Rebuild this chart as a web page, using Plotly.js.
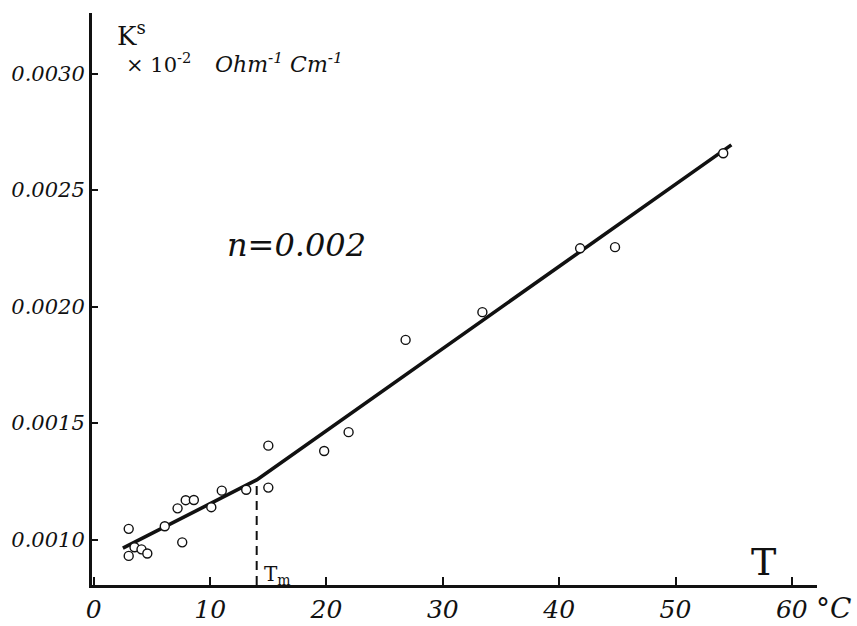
<!DOCTYPE html>
<html>
<head>
<meta charset="utf-8">
<script src="https://cdn.plot.ly/plotly-3.0.1.min.js"></script>
<style>html,body{margin:0;padding:0;background:#fff;}#chart{width:857px;height:626px;}</style>
</head>
<body>
<div id="chart"></div>
<script>
// Measured points: temperature (°C) and specific conductance Ks
const temps = [3.0, 3.0, 3.5, 4.1, 4.6, 6.1, 7.6, 7.2, 7.9, 8.6, 10.1, 11.0, 13.1, 15.0, 15.0, 19.8, 21.9, 26.8, 33.4, 41.8, 44.8, 54.1];
const ks = [0.001046, 0.000930, 0.000967, 0.000958, 0.000940, 0.001057, 0.000988, 0.001134, 0.001169, 0.001170, 0.001139, 0.001210, 0.001214, 0.001403, 0.001223, 0.001380, 0.001461, 0.001857, 0.001976, 0.002250, 0.002255, 0.002658];

// Hand-drawn fitted line (broken at Tm)
const fitT = [2.5, 14.0, 54.8];
const fitK = [0.000963, 0.001256, 0.002694];

// Tm marker
const tmT = [14.0, 14.0];
const tmK = [0.000805, 0.001256];

// Axis ticks
const xTicks = [0, 10, 20, 30, 40, 50, 60];
const xTickText = ['0', '10', '20', '30', '40', '50', '60'];
const yTicks = [0.0010, 0.0015, 0.0020, 0.0025, 0.0030];
const yTickText = ['0.0010', '0.0015', '0.0020', '0.0025', '0.0030'];

const ink = '#111';
const serif = 'DejaVu Serif';

// pixel -> paper helpers for free text placement (plot area 92..817 x 13..585)
const px2p = p => (p - 92) / (817 - 92);
const py2p = p => (585 - p) / (585 - 13);

const traces = [
  {x: fitT, y: fitK, mode: 'lines', line: {color: ink, width: 3.6}, hoverinfo: 'skip'},
  {x: tmT, y: tmK, mode: 'lines', line: {color: ink, width: 2, dash: '9px,6px'}, hoverinfo: 'skip'},
  {x: temps, y: ks, mode: 'markers',
   marker: {symbol: 'circle', size: 9, color: '#fff', line: {color: ink, width: 1.4}}}
];

const ann = (x, y, text, size, italic) => ({
  x: px2p(x), y: py2p(y), xref: 'paper', yref: 'paper', text: text, showarrow: false,
  font: {family: serif, size: size, color: ink, style: italic ? 'italic' : 'normal'},
  xanchor: 'center', yanchor: 'middle'
});

const layout = {
  width: 857, height: 626,
  margin: {l: 92, r: 40, t: 13, b: 41},
  paper_bgcolor: '#fff', plot_bgcolor: '#fff',
  showlegend: false,
  xaxis: {
    range: [-0.155, 62.16], showgrid: false, zeroline: false,
    showline: true, linecolor: ink, linewidth: 3,
    ticks: 'inside', ticklen: 8, tickwidth: 2, tickcolor: ink,
    tickvals: xTicks, ticktext: xTickText,
    tickfont: {family: serif, size: 25, color: ink, style: 'italic'}
  },
  yaxis: {
    range: [0.000805, 0.00326], showgrid: false, zeroline: false,
    showline: true, linecolor: ink, linewidth: 3,
    ticks: 'inside', ticklen: 6, tickwidth: 2, tickcolor: ink,
    tickvals: yTicks, ticktext: yTickText,
    tickfont: {family: serif, size: 21, color: ink, style: 'italic'}
  },
  annotations: [
    ann(131, 34, 'K<sup>s</sup>', 26, false),
    ann(158, 63, '× 10<sup>-2</sup>', 21, false),
    ann(279, 63, 'Ohm<sup>-1</sup> Cm<sup>-1</sup>', 22, true),
    ann(296, 245, 'n=0.002', 32, true),
    ann(763, 562, 'T', 38, false),
    ann(834, 608, '°C', 28, true),
    ann(277, 575, 'T<sub>m</sub>', 20, false)
  ]
};

Plotly.newPlot('chart', traces, layout, {staticPlot: true, displayModeBar: false});
</script>
</body>
</html>
